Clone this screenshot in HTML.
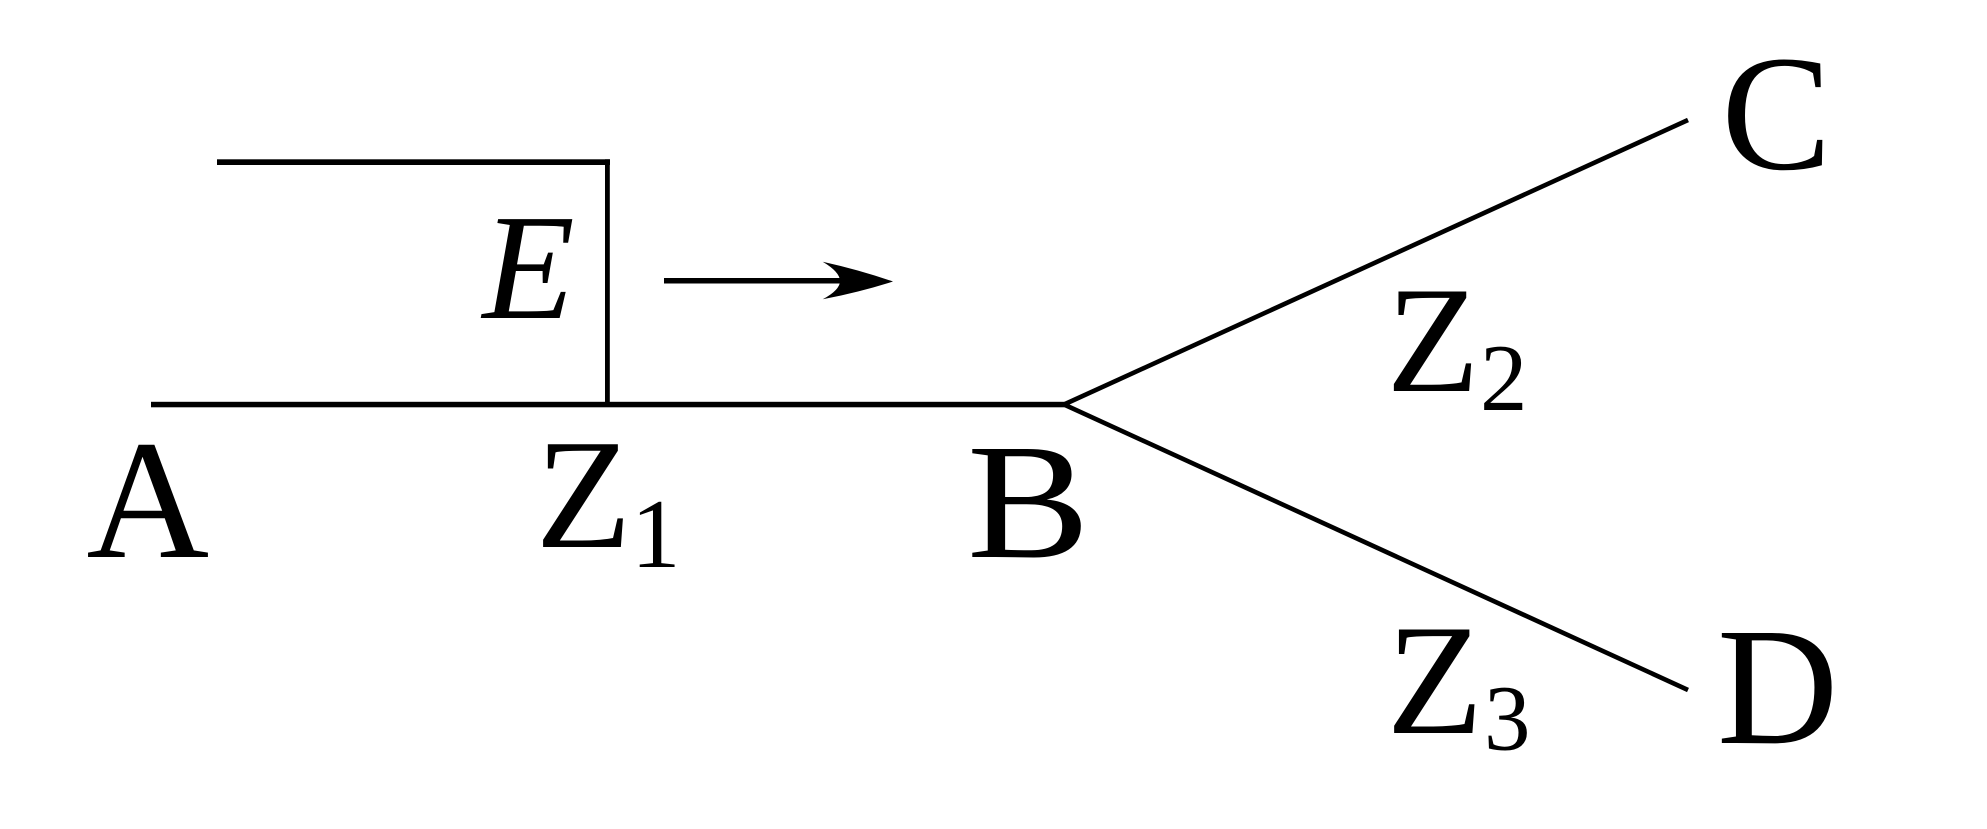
<!DOCTYPE html>
<html>
<head>
<meta charset="utf-8">
<style>
  html, body { margin: 0; padding: 0; background: #ffffff; }
  body { width: 1987px; height: 829px; overflow: hidden; }
  svg { display: block; }
  text { font-family: "Liberation Serif", "Times New Roman", serif; fill: #000; }
</style>
</head>
<body>
<svg width="1987" height="829" viewBox="0 0 1987 829" xmlns="http://www.w3.org/2000/svg">
  <rect x="0" y="0" width="1987" height="829" fill="#ffffff"/>

  <!-- top bracket line -->
  <rect x="217" y="159.3" width="393" height="5.7" fill="#000"/>
  <!-- vertical line -->
  <rect x="605" y="159.3" width="4.8" height="245" fill="#000"/>
  <!-- main horizontal line -->
  <rect x="151" y="401.8" width="913.5" height="5.5" fill="#000"/>

  <!-- diagonals -->
  <line x1="1064" y1="404.5" x2="1688" y2="120" stroke="#000" stroke-width="4.6"/>
  <line x1="1064" y1="404.5" x2="1688" y2="690" stroke="#000" stroke-width="4.6"/>

  <!-- arrow -->
  <rect x="664" y="278" width="180" height="5.5" fill="#000"/>
  <path d="M893,281.5 Q860,270 822.7,261.7 Q840,272 840,281 Q840,290 822.7,299.3 Q860,292 893,281.5 Z" fill="#000"/>

  <!-- labels -->
  <text x="86.4" y="557" font-size="170">A</text>
  <text x="967" y="557" font-size="165" textLength="122.8" lengthAdjust="spacingAndGlyphs">B</text>
  <text x="1721.4" y="168.7" font-size="165">C</text>
  <text x="1717" y="743" font-size="168">D</text>
  <text x="482.5" y="318" font-size="151" font-style="italic">E</text>

  <text x="535.6" y="547" font-size="157">Z</text>
  <text x="631" y="567" font-size="99">1</text>

  <text x="1386.6" y="391" font-size="152">Z</text>
  <text x="1480" y="410" font-size="95">2</text>

  <text x="1386.6" y="733" font-size="158">Z</text>
  <text x="1484" y="749.7" font-size="93">3</text>
</svg>
</body>
</html>
